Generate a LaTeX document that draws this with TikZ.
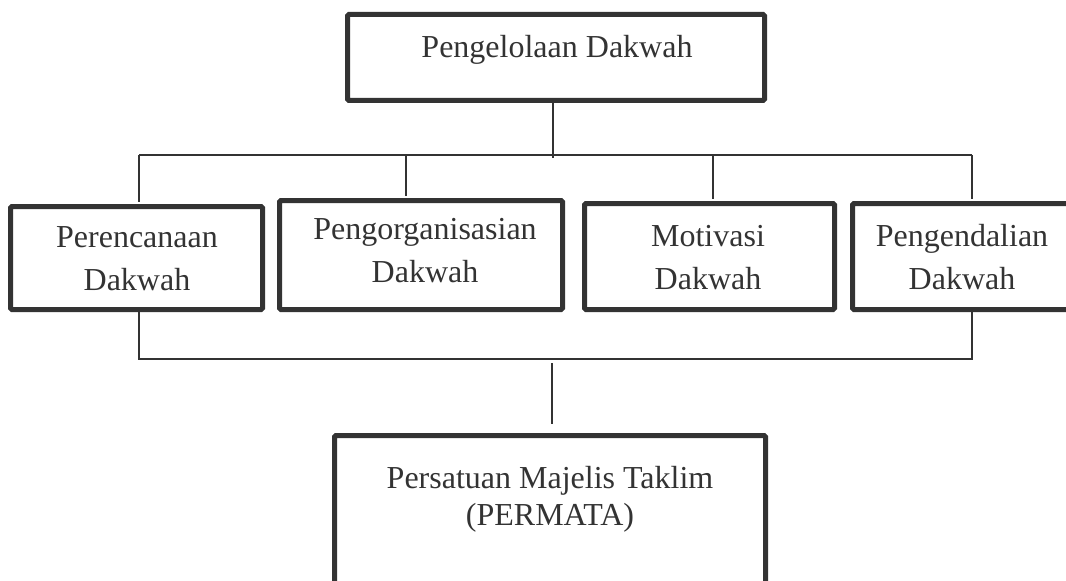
\documentclass[tikz,border=0pt]{standalone}
\usepackage{fontspec}
\setmainfont{Liberation Serif}
\definecolor{inkgray}{HTML}{333333}
\tikzset{
  box/.style={draw=inkgray, line width=3.75pt, rounded corners=1pt, inner sep=0pt},
  link/.style={draw=inkgray, line width=1pt},
  lbl/.style={text=inkgray, align=center, inner sep=0pt, font=\fontsize{24}{32.25}\selectfont},
}
\begin{document}
\begin{tikzpicture}[x=0.75pt,y=-0.75pt]
\useasboundingbox (0,0) rectangle (1066,581);
\clip (0,0) rectangle (1066,581);

%Shape: Rectangle
\node[box, minimum width=312.75pt, minimum height=64.5pt] (kelola) at (556,57.5) {};
\node[box, minimum width=189pt, minimum height=77.25pt] (rencana) at (136.5,258) {};
\node[box, minimum width=212.25pt, minimum height=81.75pt] (organisasi) at (421,255) {};
\node[box, minimum width=187.5pt, minimum height=79.5pt] (motivasi) at (709.5,256.5) {};
\node[box, minimum width=162.75pt, minimum height=79.5pt] (kendali) at (961,256.5) {};
\node[box, minimum width=323.25pt, minimum height=121.5pt] (permata) at (550,516.5) {};

% Text Node
\node[lbl] (tkelola) at (557,50) {Pengelolaan Dakwah};
\node[lbl] (trencana) at (137,259) {Perencanaan\\Dakwah};
\node[lbl] (torganisasi) at (425,250.5) {Pengorganisasian\\Dakwah};
\node[lbl] (tmotivasi) at (708,257.5) {Motivasi\\Dakwah};
\node[lbl] (tkendali) at (962,257.5) {Pengendalian\\Dakwah};
\node[lbl, font=\fontsize{24}{27.75}\selectfont] (tpermata) at (550,499) {Persatuan Majelis Taklim\\(PERMATA)};

%Straight Lines
\coordinate (hub) at (553,158);
\coordinate (busL) at (139,155);
\coordinate (busR) at (972,155);
\coordinate (d2) at (406,155);
\coordinate (d3) at (713,155);
\draw[link] (kelola.south -| hub) -- (hub);
\draw[link] (busL) -- (busR);
\draw[link, shorten >=1.5pt] (busL) -- (busL |- rencana.north);
\draw[link, shorten >=1.5pt] (d2) -- (d2 |- organisasi.north);
\draw[link, shorten >=1.5pt] (d3) -- (d3 |- motivasi.north);
\draw[link, shorten >=1.5pt] (busR) -- (busR |- kendali.north);

\coordinate (lowL) at (139,359);
\coordinate (lowR) at (972,359);
\coordinate (stem) at (552,363);
\draw[link] (lowL |- rencana.south) -- (lowL) -- (lowR) -- (lowR |- kendali.south);
\draw[link, shorten >=7pt] (stem) -- (stem |- permata.north);
\end{tikzpicture}
\end{document}
